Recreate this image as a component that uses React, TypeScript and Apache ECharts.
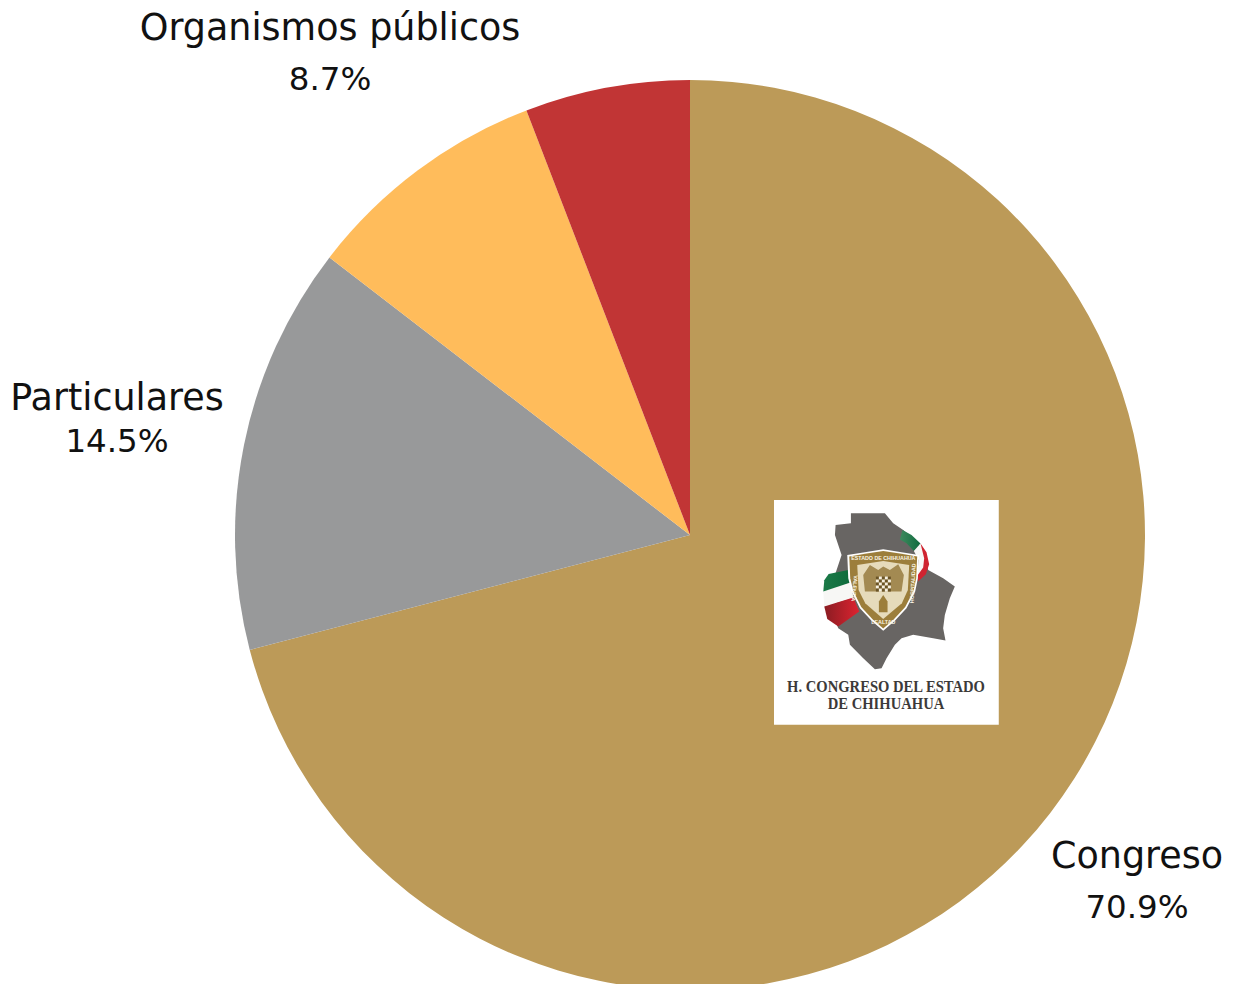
import React, { useEffect, useRef } from "react";
import * as echarts from "echarts";

const categories = ["Congreso", "Particulares", "Organismos públicos", "Otros"];
const shares = [70.9, 14.5, 8.7, 5.85];
const sliceColors = ["#BC9A58", "#98999A", "#FFBC5B", "#C13535"];
const labelAnchors = [
  { x: 1137, y: 881, lineHeight: 51 },
  { x: 117, y: 419, lineHeight: 44 },
  { x: 330, y: 53, lineHeight: 51 },
];
const FONT = "'DejaVu Sans', Inter, sans-serif";
const Z = 10;

const poly = (points: number[][], fill: any) => ({
  type: "polygon",
  z: Z,
  silent: true,
  shape: { points },
  style: { fill },
});
const grad = (a: string, b: string) =>
  new echarts.graphic.LinearGradient(0, 0, 1, 0, [
    { offset: 0, color: a },
    { offset: 1, color: b },
  ]);

const checker: any[] = [];
for (let r = 0; r < 5; r++) {
  for (let c = 0; c < 5; c++) {
    checker.push({
      type: "rect",
      z: Z,
      silent: true,
      shape: { x: 318 + c * 9, y: 245 + r * 9, width: 9, height: 9 },
      style: { fill: (r + c) % 2 === 0 ? "#6a5426" : "#f6f1e2" },
    });
  }
}

const shieldText = (text: string, x: number, y: number, rotation: number) => ({
  type: "text",
  z: Z,
  silent: true,
  x,
  y,
  rotation,
  style: {
    text,
    fill: "#fbf6e6",
    font: "bold 16px 'Liberation Sans', sans-serif",
    align: "center",
    verticalAlign: "middle",
  },
});

const logoChildren: any[] = [
  { type: "rect", z: Z, silent: true, shape: { x: 12, y: 15, width: 675, height: 675 }, style: { fill: "#ffffff" } },
  poly(
    [[243, 55], [345, 55], [370, 85], [400, 105], [450, 150], [470, 200], [475, 225], [520, 250], [555, 275], [540, 310], [525, 360], [520, 400], [527, 437], [490, 430], [430, 420], [395, 430], [375, 450], [350, 490], [335, 520], [315, 523], [280, 490], [240, 450], [235, 420], [205, 400], [195, 375], [195, 240], [215, 180], [195, 120], [197, 90], [243, 85]],
    "#686563",
  ),
  poly([[398, 105], [425, 120], [452, 146], [432, 168], [410, 145], [390, 134]], grad("#3f8a5f", "#0f6b3e")),
  poly([[452, 146], [432, 168], [446, 195], [442, 245], [458, 235], [468, 195]], "#f7f7f5"),
  poly([[452, 146], [470, 172], [478, 208], [468, 238], [445, 260], [444, 240], [460, 218], [463, 190]], "#cf2430"),
  poly([[160, 290], [163, 256], [176, 237], [235, 225], [244, 262], [165, 292]], grad("#1c7a48", "#0d6a3b")),
  poly([[160, 290], [244, 262], [250, 310], [163, 335]], "#f7f7f5"),
  poly([[163, 335], [250, 308], [268, 350], [205, 395], [172, 372]], grad("#8a1c22", "#dd2330")),
  poly([[232, 180], [285, 172], [340, 163], [395, 172], [447, 180], [444, 250], [436, 290], [410, 340], [375, 378], [340, 408], [305, 378], [270, 340], [245, 290], [235, 250]], "#ffffff"),
  poly([[238, 185], [290, 176], [340, 168], [390, 176], [442, 185], [439, 250], [431, 288], [406, 336], [372, 373], [340, 401], [308, 373], [274, 336], [250, 288], [241, 250]], "#9C7E3B"),
  poly([[262, 210], [340, 198], [418, 210], [414, 285], [396, 325], [340, 372], [286, 325], [266, 285]], "#E6DBBB"),
  poly([[280, 240], [300, 210], [325, 225], [340, 215], [360, 225], [385, 208], [402, 240], [395, 290], [285, 290]], "#A38A52"),
  ...checker,
  poly([[327, 352], [327, 320], [340, 300], [353, 320], [353, 352]], "#9C7E3B"),
  shieldText("ESTADO DE CHIHUAHUA", 340, 188, 0),
  shieldText("VALENTÍA", 254, 280, Math.PI / 2 - 0.1 + Math.PI),
  shieldText("HOSPITALIDAD", 428, 265, Math.PI / 2 - 0.05),
  shieldText("LEALTAD", 340, 382, 0),
];

const logoTitle = (text: string, x: number, y: number, scaleX: number) => ({
  type: "text",
  z: Z,
  silent: true,
  x,
  y,
  scaleX,
  style: {
    text,
    fill: "#3c3a39",
    font: "bold 17px 'Liberation Serif', serif",
    align: "center",
    verticalAlign: "middle",
  },
});

export default function App() {
  const ref = useRef<HTMLDivElement>(null);
  useEffect(() => {
    document.body.style.margin = "0";
    const chart = echarts.init(ref.current!, undefined, { renderer: "svg" });
    chart.setOption({
      animation: false,
      backgroundColor: "#ffffff",
      graphic: {
        elements: [
          { type: "group", z: Z, x: 770, y: 495, scaleX: 1 / 3, scaleY: 1 / 3, children: logoChildren },
          logoTitle("H. CONGRESO DEL ESTADO", 886, 686, 0.86),
          logoTitle("DE CHIHUAHUA", 886, 703, 0.86),
        ],
      },
      series: [
        {
          type: "pie",
          silent: true,
          center: [690, 535],
          radius: 455,
          startAngle: 90,
          clockwise: true,
          avoidLabelOverlap: false,
          labelLine: { show: false },
          labelLayout: (p: any) => {
            const a = labelAnchors[p.dataIndex];
            return a ? { x: a.x, y: a.y, align: "center", verticalAlign: "middle" } : {};
          },
          data: categories.map((name, i) => ({
            name,
            value: shares[i],
            itemStyle: { color: sliceColors[i] },
            label: labelAnchors[i]
              ? {
                  show: true,
                  position: "outside",
                  formatter: "{n|{b}}\n{v|{c}%}",
                  align: "center",
                  rich: {
                    n: {
                      fontFamily: FONT,
                      fontSize: 36.5,
                      color: "#111111",
                      align: "center",
                      lineHeight: labelAnchors[i].lineHeight,
                    },
                    v: {
                      fontFamily: FONT,
                      fontSize: 32.5,
                      color: "#111111",
                      align: "center",
                      lineHeight: labelAnchors[i].lineHeight,
                    },
                  },
                }
              : { show: false },
          })),
        },
      ],
    });
    return () => chart.dispose();
  }, []);
  return <div ref={ref} style={{ width: 1234, height: 984 }} />;
}
